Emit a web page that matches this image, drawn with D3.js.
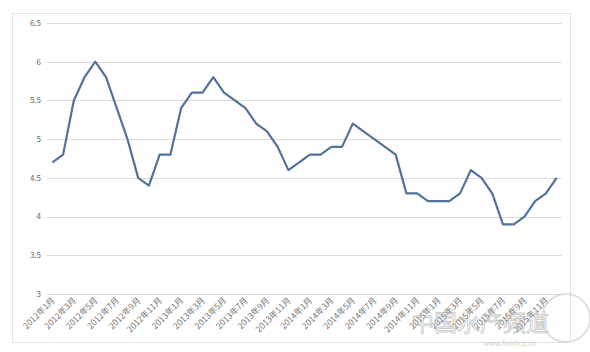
<!DOCTYPE html>
<html>
<head>
<meta charset="utf-8">
<script src="https://cdn.jsdelivr.net/npm/d3@7"></script>
<style>
  body { margin: 0; background: #fff; }
  svg { display: block; font-family: "Noto Sans CJK SC", "DejaVu Sans", sans-serif; }
</style>
</head>
<body>
<div id="chart"></div>
<script>
// monthly values, 2012年1月 .. 2015年12月
const years = [2012, 2013, 2014, 2015];
const values = [
  4.7, 4.8, 5.5, 5.8, 6.0, 5.8, 5.4, 5.0, 4.5, 4.4, 4.8, 4.8,
  5.4, 5.6, 5.6, 5.8, 5.6, 5.5, 5.4, 5.2, 5.1, 4.9, 4.6, 4.7,
  4.8, 4.8, 4.9, 4.9, 5.2, 5.1, 5.0, 4.9, 4.8, 4.3, 4.3, 4.2,
  4.2, 4.2, 4.3, 4.6, 4.5, 4.3, 3.9, 3.9, 4.0, 4.2, 4.3, 4.5
];
const yTicks = [3, 3.5, 4, 4.5, 5, 5.5, 6, 6.5];

const months = [];
years.forEach(y => d3.range(1, 13).forEach(m => months.push(y + "年" + m + "月")));
const data = months.map((m, i) => ({ month: m, value: values[i] }));

const W = 590, H = 352;
const margin = { left: 47, right: 28, top: 23, bottom: 58 };

const svg = d3.select("#chart").append("svg")
  .attr("width", W)
  .attr("height", H);

// chart frame
svg.append("rect")
  .attr("x", 12.5).attr("y", 13.5)
  .attr("width", 558).attr("height", 329)
  .attr("fill", "#fff")
  .attr("stroke", "#e3e3e3");

const x = d3.scaleBand()
  .domain(months)
  .range([margin.left, W - margin.right]);

const y = d3.scaleLinear()
  .domain([3, 6.5])
  .range([H - margin.bottom, margin.top]);

// gridlines
svg.append("g")
  .selectAll("line")
  .data(yTicks)
  .join("line")
    .attr("x1", margin.left)
    .attr("x2", W - margin.right)
    .attr("y1", d => Math.round(y(d)) + 0.5)
    .attr("y2", d => Math.round(y(d)) + 0.5)
    .attr("stroke", "#dcdcdc")
    .attr("stroke-width", 1);

// y labels
svg.append("g")
  .selectAll("text")
  .data(yTicks)
  .join("text")
    .attr("x", margin.left - 6)
    .attr("y", d => y(d))
    .attr("dy", "0.35em")
    .attr("text-anchor", "end")
    .attr("font-size", 8)
    .attr("fill", "#666")
    .text(d => d);

// x labels, every second month
svg.append("g")
  .selectAll("text")
  .data(months.filter((m, i) => i % 2 === 0))
  .join("text")
    .attr("transform", d => `translate(${x(d) + x.bandwidth() / 2 + 3},${H - margin.bottom + 7}) rotate(-45)`)
    .attr("text-anchor", "end")
    .attr("font-size", 8.5)
    .attr("fill", "#777")
    .text(d => d);

const line = d3.line()
  .x(d => x(d.month) + x.bandwidth() / 2)
  .y(d => y(d.value));

svg.append("path")
  .datum(data)
  .attr("d", line)
  .attr("fill", "none")
  .attr("stroke", "#52729a")
  .attr("stroke-width", 2.2)
  .attr("stroke-linejoin", "round");

// watermark
const wm = svg.append("g").attr("opacity", 0.55);
wm.append("circle")
  .attr("cx", 566).attr("cy", 318).attr("r", 24)
  .attr("fill", "none").attr("stroke", "#c8c8c8").attr("stroke-width", 2);
wm.append("text")
  .attr("x", 480).attr("y", 331)
  .attr("text-anchor", "middle")
  .attr("font-size", 23)
  .attr("fill", "#fff")
  .attr("stroke", "#999")
  .attr("stroke-width", 0.8)
  .text("中国水产频道");
wm.append("text")
  .attr("x", 510).attr("y", 346)
  .attr("text-anchor", "middle")
  .attr("font-size", 7)
  .attr("fill", "#aaa")
  .text("www.fishfirst.cn");
</script>
</body>
</html>
